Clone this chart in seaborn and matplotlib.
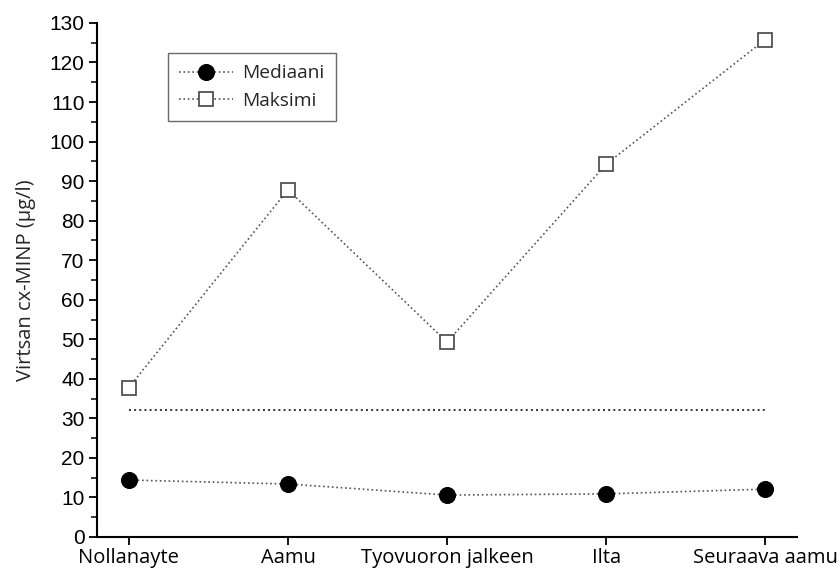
import pandas as pd
import matplotlib
matplotlib.use('Agg')
import matplotlib.pyplot as plt
import seaborn as sns
from matplotlib.ticker import MultipleLocator

# Data
ajankohdat = ['Nollanayte', 'Aamu', 'Tyovuoron jalkeen', 'Ilta', 'Seuraava aamu']
mediaani = [14.4, 13.4, 10.6, 10.9, 12.1]
maksimi = [37.8, 87.8, 49.3, 94.3, 125.8]
viitearvo = 32

data = pd.DataFrame({'ajankohta': ajankohdat, 'Mediaani': mediaani, 'Maksimi': maksimi})

sns.set_style('ticks')
plt.rcParams['font.family'] = ['Open Sans', 'DejaVu Sans']

fig = plt.figure(figsize=(8.4, 5.74), dpi=100)
ax = fig.add_axes([0.1155, 0.0645, 0.8335, 0.8955])

# Median and max lines
sns.lineplot(data=data, x='ajankohta', y='Mediaani', ax=ax, color='#555555',
             linestyle=':', linewidth=1.2, marker='o', markersize=11.5,
             markerfacecolor='black', markeredgecolor='black', label='Mediaani')
sns.lineplot(data=data, x='ajankohta', y='Maksimi', ax=ax, color='#555555',
             linestyle=':', linewidth=1.2, marker='s', markersize=10,
             markerfacecolor='white', markeredgecolor='#444444', markeredgewidth=1.2,
             label='Maksimi')

# Reference level
ax.plot([ajankohdat[0], ajankohdat[-1]], [viitearvo, viitearvo], color='#333333',
        linestyle=':', linewidth=1.4)

ax.set_xlim(-0.2, 4.2)
ax.set_ylim(0, 130)
ax.yaxis.set_major_locator(MultipleLocator(10))
ax.yaxis.set_minor_locator(MultipleLocator(5))
ax.set_xlabel('')
ax.set_ylabel('Virtsan cx-MINP (µg/l)', fontsize=14.5, labelpad=10)

for lbl in ax.get_yticklabels():
    lbl.set_fontfamily('Liberation Sans')
    lbl.set_fontsize(15)
for lbl in ax.get_xticklabels():
    lbl.set_fontsize(14.5)

ax.tick_params(axis='both', direction='out', length=6, width=1.3, colors='black')
ax.tick_params(axis='y', which='minor', direction='out', length=4, width=1.3)
ax.tick_params(axis='x', pad=2)
ax.tick_params(axis='y', pad=3)
sns.despine(ax=ax)
for s in ['left', 'bottom']:
    ax.spines[s].set_linewidth(1.5)
    ax.spines[s].set_color('black')

leg = ax.legend(loc='upper left', bbox_to_anchor=(0.101, 0.942), borderaxespad=0,
                fontsize=13.8, frameon=True, fancybox=False, edgecolor='#444444',
                handlelength=2.8, handletextpad=0.5, borderpad=0.6, labelspacing=0.5)
leg.get_frame().set_linewidth(1.0)

fig.savefig('out.png', dpi=100)
